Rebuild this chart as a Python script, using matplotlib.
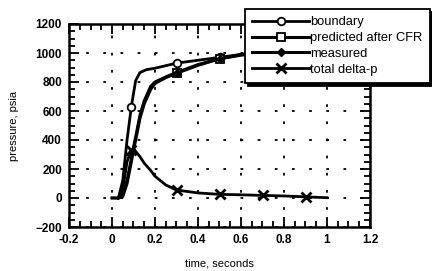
import numpy as np
import matplotlib
matplotlib.use("Agg")
import matplotlib.pyplot as plt

plt.rcParams['font.family'] = ['Liberation Sans', 'DejaVu Sans']
plt.rcParams['font.weight'] = 'bold'

# boundary pressure
bnd_t = [0.0, 0.03, 0.05, 0.07, 0.09, 0.11, 0.13, 0.16, 0.2, 0.3, 0.4, 0.5, 0.6, 0.7, 0.8, 0.9, 1.0]
bnd_p = [0, 0, 120, 400, 630, 810, 865, 885, 895, 930, 950, 970, 990, 1000, 1005, 1010, 1010]

# predicted after CFR
pred_t = [0.03, 0.05, 0.07, 0.09, 0.1, 0.11, 0.13, 0.15, 0.18, 0.2, 0.25, 0.3, 0.4, 0.5, 0.6, 0.7, 0.8, 0.9, 1.0]
pred_p = [0, 20, 120, 270, 350, 420, 570, 670, 770, 800, 835, 865, 920, 960, 990, 1000, 1010, 1015, 1020]

# measured
meas_t = [0.03, 0.05, 0.07, 0.09, 0.1, 0.11, 0.13, 0.15, 0.18, 0.2, 0.25, 0.3, 0.4, 0.5, 0.6, 0.7, 0.8, 0.9, 1.0]
meas_p = [0, 10, 100, 250, 330, 400, 550, 650, 750, 790, 830, 860, 915, 960, 985, 1000, 1005, 1010, 1015]

# total delta-p
dp_t = [0.0, 0.03, 0.05, 0.07, 0.09, 0.1, 0.13, 0.15, 0.18, 0.2, 0.25, 0.3, 0.4, 0.5, 0.6, 0.7, 0.8, 0.9, 1.0]
dp_p = [0, 0, 60, 250, 330, 340, 285, 240, 190, 150, 90, 55, 35, 25, 22, 18, 14, 8, 2]

mark_t = [0.09, 0.1, 0.3, 0.5, 0.7, 0.9]


def marks(t):
    return [i for i, v in enumerate(t) if np.isclose(v, mark_t).any() and not (v == 0.1 and 0.09 in t)]


fig = plt.figure(figsize=(4.32, 2.71), dpi=100)
ax = fig.add_axes([69/432, 44/271, 301/432, 203/271])

ax.plot(bnd_t, bnd_p, color='black', lw=2, marker='o', ms=5.5, mfc='white', mew=1.3,
        markevery=marks(bnd_t), label='boundary')
ax.plot(pred_t, pred_p, color='black', lw=2.2, marker='s', ms=5.5, mfc='white', mew=1.3,
        markevery=marks(pred_t)[1:], label='predicted after CFR')
ax.plot(meas_t, meas_p, color='black', lw=2.2, marker='D', ms=4.5, mfc='black',
        markevery=marks(meas_t)[1:], label='measured')
ax.plot(dp_t, dp_p, color='black', lw=2, marker='x', ms=7, mew=2,
        markevery=marks(dp_t), label='total delta-p')

ax.set_xlim(-0.2, 1.2)
ax.set_ylim(-200, 1200)
ax.set_xticks(np.arange(-0.2, 1.21, 0.2))
ax.set_xticklabels(['-0.2', '0', '0.2', '0.4', '0.6', '0.8', '1', '1.2'])
ax.set_yticks(np.arange(-200, 1201, 200))
ax.set_xticks(np.arange(-0.2, 1.21, 0.05), minor=True)
ax.set_yticks(np.arange(-200, 1201, 50), minor=True)
ax.tick_params(which='both', direction='in', top=True, right=True, labelsize=8.5, width=1.3)
ax.tick_params(which='major', length=7, pad=5)
ax.tick_params(which='minor', length=4)
for s in ax.spines.values():
    s.set_linewidth(1.8)
ax.grid(True, which='major', color='black', linestyle=(0, (1.5, 8)), linewidth=1.3)

ax.set_xlabel('time, seconds', fontsize=8, labelpad=9)
ax.set_ylabel('pressure, psia', fontsize=8, labelpad=12)

leg = fig.legend(loc='upper left', bbox_to_anchor=(245/432, 1 - 9/271),
                 prop={'size': 9.3, 'weight': 'normal'},
                 frameon=True, fancybox=False, edgecolor='black', framealpha=1,
                 shadow={'color': 'black', 'alpha': 1}, handlelength=4.4,
                 handletextpad=0.1, labelspacing=0.3, borderpad=0.55, borderaxespad=0)
leg.get_frame().set_linewidth(1.3)

fig.savefig('out.png', dpi=100)
